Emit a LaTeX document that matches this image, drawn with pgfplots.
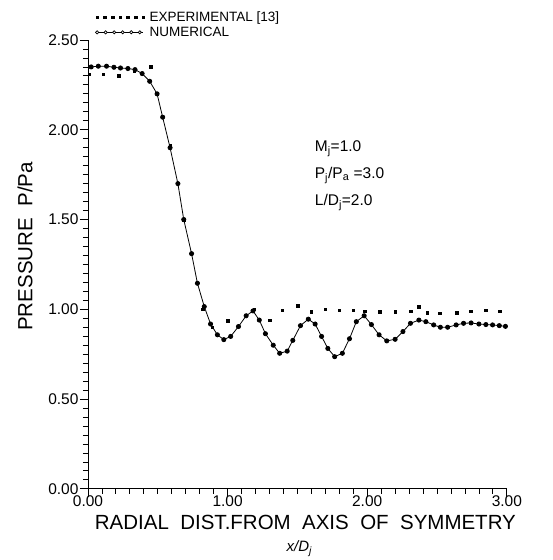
\documentclass[border=0pt]{standalone}
\usepackage{pgfplots}
\pgfplotsset{compat=1.18}
\usepackage{fontspec}
\setmainfont{Liberation Sans}
\setsansfont{Liberation Sans}

\begin{document}
\begin{tikzpicture}
\begin{axis}[
  scale only axis,
  width=419pt, height=449pt,
  xmin=0, xmax=3, ymin=0, ymax=2.5,
  clip=false,
  axis x line*=bottom, axis y line*=left,
  xtick={0,1,2,3}, ytick={0,0.5,...,2.5},
  minor x tick num=9, minor y tick num=9,
  tick align=outside,
  major tick length=8pt, minor tick length=5pt,
  every tick/.style={black, line width=0.8pt},
  axis line style={line width=0.9pt},
  /pgf/number format/.cd, fixed, fixed zerofill, precision=2, assume math mode=true,
  /pgfplots/.cd,
  tick label style={font=\fontsize{15.5}{17}\selectfont},
  xticklabel style={yshift=2pt, inner sep=1pt},
  yticklabel style={xshift=2pt},
  label style={font=\fontsize{20.5}{23}\selectfont},
  xlabel={RADIAL\ \ DIST.FROM\ \ AXIS\ \ OF\ \ SYMMETRY},
  xlabel style={at={(axis description cs:0.5,0)}, anchor=center, yshift=-34pt, xshift=8pt, inner sep=0pt},
  ylabel={PRESSURE\ \ P/Pa},
  ylabel style={at={(axis description cs:0,0.54)}, anchor=center, yshift=63pt},
  legend style={at={(axis description cs:0,1)}, anchor=south west, draw=none, fill=none,
    font=\fontsize{13.5}{14}\selectfont, row sep=2pt, inner sep=0pt, xshift=7pt, yshift=1pt,
    nodes={inner sep=1pt}},
  legend cell align=left,
]
% experimental
\addplot[only marks, mark=square*, mark size=1.3pt, black,
  legend image code/.code={
    \foreach \i in {0,...,6}{\fill[black] (\i*0.27cm-0.045cm,-0.045cm) rectangle ++(0.09cm,0.09cm);}
    \path (1.8cm,0cm);
  }]
 coordinates {
(0.01,2.31) (0.11,2.31) (0.22,2.30) (0.33,2.33) (0.45,2.35) (0.495,2.20)
(0.59,1.91) (0.686,1.50) (0.82,1.00) (0.89,0.90) (1.00,0.935) (1.19,1.00) (1.30,0.94)
(1.39,0.995) (1.50,1.02) (1.60,0.985) (1.70,1.00) (1.80,0.995) (1.90,0.995)
(1.98,0.99) (2.09,0.985) (2.20,0.985) (2.31,0.99) (2.37,1.015) (2.43,0.98)
(2.52,0.978) (2.64,0.98) (2.74,0.99) (2.85,0.995) (2.95,0.99)
};
% numerical
\addplot[black, line width=0.8pt, mark=*, mark size=2.1pt,
  legend image code/.code={
    \draw[black, line width=0.8pt] (0cm,0cm) -- (1.62cm,0cm);
    \foreach \i in {0,...,5}{\draw[black, line width=0.7pt, fill=white] (\i*0.3cm,0cm) circle (1.6pt);}
    \path (1.8cm,0cm);
  }]
 coordinates {
(0.023,2.35) (0.074,2.354) (0.133,2.354) (0.186,2.348) (0.233,2.344) (0.286,2.341)
(0.337,2.335) (0.388,2.313) (0.442,2.27) (0.495,2.20) (0.535,2.07) (0.588,1.90)
(0.644,1.70) (0.686,1.50) (0.742,1.31) (0.784,1.145) (0.833,1.015) (0.878,0.918)
(0.927,0.858) (0.973,0.831) (1.022,0.849) (1.078,0.904) (1.133,0.964) (1.182,0.991)
(1.227,0.94) (1.271,0.864) (1.327,0.80) (1.373,0.755) (1.427,0.767) (1.467,0.827)
(1.522,0.909) (1.578,0.945) (1.627,0.918) (1.673,0.849) (1.718,0.782) (1.767,0.736)
(1.822,0.755) (1.873,0.836) (1.922,0.931) (1.978,0.964) (2.03,0.915) (2.085,0.858)
(2.14,0.824) (2.20,0.833) (2.256,0.876) (2.31,0.922) (2.37,0.94) (2.42,0.931)
(2.476,0.913) (2.524,0.90) (2.576,0.90) (2.637,0.913) (2.69,0.922) (2.744,0.924)
(2.80,0.918) (2.85,0.915) (2.898,0.913) (2.946,0.909) (2.99,0.905)
};
\legend{EXPERIMENTAL [13], NUMERICAL}
\node[anchor=north west, align=left, font=\fontsize{15.5}{27}\selectfont]
  at (axis cs:1.6,1.96) {M\textsubscript{j}=1.0\\P\textsubscript{j}/P\textsubscript{a} =3.0\\L/D\textsubscript{j}=2.0};
\node[font=\fontsize{15}{17}\selectfont\itshape] at (axis description cs:0.5,0) [yshift=-60pt, xshift=2pt] {x/D\textsubscript{j}};
% page frame as in the reference
\path (rel axis cs:0,0) ++(-88pt,-71pt);
\path (rel axis cs:1,1) ++(46pt,40pt);
\end{axis}
\end{tikzpicture}
\end{document}
